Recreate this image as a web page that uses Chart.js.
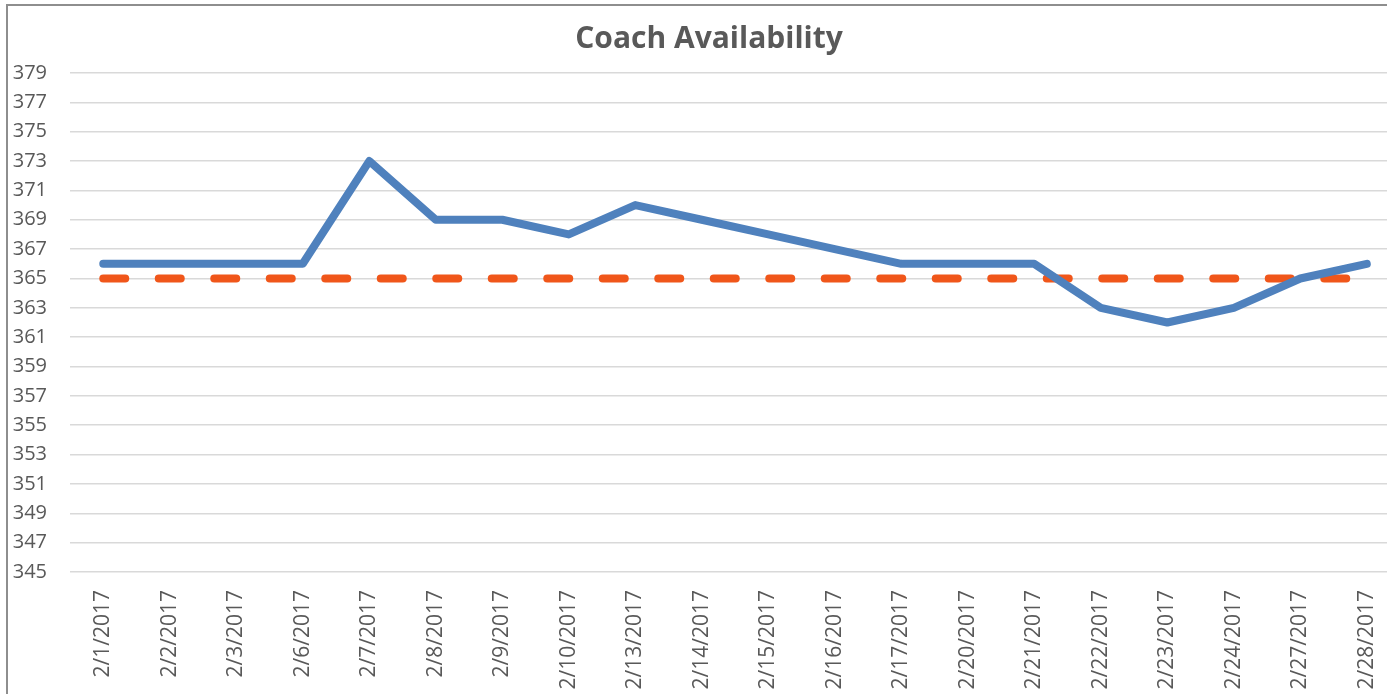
<!DOCTYPE html>
<html>
<head>
<meta charset="utf-8">
<script src="https://cdn.jsdelivr.net/npm/chart.js@4/dist/chart.umd.min.js"></script>
<style>
    html, body { margin: 0; padding: 0; background: #fff; overflow: hidden; }
    #moldura {
        position: absolute;
        left: 6px;
        top: 4px;
        border-left: 2px solid #8e8e8e;
        border-top: 2px solid #8e8e8e;
        width: 1420px;
        height: 700px;
    }
    canvas { display: block; }
</style>
</head>
<body>
<div id="moldura">
    <canvas id="graficoCoach" width="1402" height="690"></canvas>
</div>
<script>
// Datas (categorias do eixo x)
const datas = [
    "2/1/2017", "2/2/2017", "2/3/2017", "2/6/2017", "2/7/2017",
    "2/8/2017", "2/9/2017", "2/10/2017", "2/13/2017", "2/14/2017",
    "2/15/2017", "2/16/2017", "2/17/2017", "2/20/2017", "2/21/2017",
    "2/22/2017", "2/23/2017", "2/24/2017", "2/27/2017", "2/28/2017"
];

// Disponibilidade
const disponiveis = [366, 366, 366, 366, 373, 369, 369, 368, 370, 369,
                     368, 367, 366, 366, 366, 363, 362, 363, 365, 366];

// Meta (linha tracejada)
const meta = [365, 365, 365, 365, 365, 365, 365, 365, 365, 365,
              365, 365, 365, 365, 365, 365, 365, 365, 365, 365];

const eixoYMin = 345;
const eixoYMax = 379;
const eixoYPasso = 2;

const corTexto = "#595959";
const fonte = "'Open Sans', 'Liberation Sans', sans-serif";

new Chart(document.getElementById("graficoCoach"), {
    type: "line",
    data: {
        labels: datas,
        datasets: [
            {
                label: "Available",
                data: disponiveis,
                borderColor: "#4f81bd",
                borderWidth: 8,
                pointRadius: 0,
                tension: 0,
                borderJoinStyle: "round",
                borderCapStyle: "round"
            },
            {
                label: "Target",
                data: meta,
                borderColor: "#f0561a",
                borderWidth: 8,
                borderDash: [22, 33.5],
                borderCapStyle: "round",
                pointRadius: 0,
                tension: 0
            }
        ]
    },
    options: {
        responsive: false,
        animation: false,
        devicePixelRatio: 1,
        layout: { padding: 0 },
        plugins: {
            legend: { display: false },
            tooltip: { enabled: false },
            title: {
                display: true,
                text: "Coach Availability",
                color: corTexto,
                font: { family: fonte, size: 30, weight: "bold", lineHeight: 1.2 },
                padding: { top: 15, bottom: 16 }
            }
        },
        scales: {
            x: {
                offset: true,
                grid: { display: false, drawTicks: false },
                border: { display: false },
                ticks: {
                    color: corTexto,
                    font: { family: fonte, size: 21 },
                    minRotation: 90,
                    maxRotation: 90,
                    autoSkip: false,
                    padding: 18
                },
                afterFit: (escala) => { escala.height = 124; }
            },
            y: {
                min: eixoYMin,
                max: eixoYMax,
                grid: { color: "#d9d9d9", lineWidth: 1.5, drawTicks: false },
                border: { display: false },
                ticks: {
                    stepSize: eixoYPasso,
                    color: corTexto,
                    font: { family: fonte, size: 20 },
                    padding: 23
                },
                afterFit: (escala) => { escala.width = 62; }
            }
        }
    }
});
</script>
</body>
</html>
